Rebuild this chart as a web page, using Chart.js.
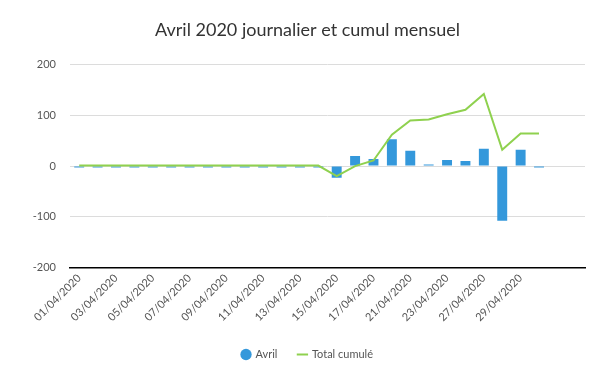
<!DOCTYPE html>
<html>
<head>
<meta charset="utf-8">
<script src="https://cdn.jsdelivr.net/npm/chart.js@4/dist/chart.umd.min.js"></script>
<style>
  body { margin: 0; background: #fff; }
  #wrap { width: 615px; height: 380px; }
</style>
</head>
<body>
<div id="wrap"><canvas id="chart" width="615" height="380"></canvas></div>
<script>
const days = [
  '01/04/2020', '02/04/2020', '03/04/2020', '04/04/2020', '05/04/2020', '06/04/2020', '07/04/2020',
  '08/04/2020', '09/04/2020', '10/04/2020', '11/04/2020', '12/04/2020', '13/04/2020', '14/04/2020',
  '15/04/2020', '16/04/2020', '17/04/2020', '20/04/2020', '21/04/2020', '22/04/2020', '23/04/2020',
  '24/04/2020', '27/04/2020', '28/04/2020', '29/04/2020', '30/04/2020', '', ''
];
const daily = [
  -3, -3, -3, -3, -3, -3, -3, -3, -3, -3, -3, -3, -3, -3,
  -23, 20, 14, 53, 30, 3, 12, 10, 34, -108, 32, -3, null, null
];
const cumul = [
  1, 1, 1, 1, 1, 1, 1, 1, 1, 1, 1, 1, 1, 1,
  -20, 0, 11, 62, 90, 92, 102, 111, 142, 32, 64, 64, null, null
];
const yTicks = [-200, -100, 0, 100, 200];

Chart.defaults.font.family = 'Lato, sans-serif';
Chart.defaults.color = '#555';

const ctx = document.getElementById('chart').getContext('2d');
new Chart(ctx, {
  type: 'bar',
  data: {
    labels: days,
    datasets: [
      {
        type: 'line',
        label: 'Total cumulé',
        data: cumul,
        borderColor: '#8fd14f',
        backgroundColor: '#8fd14f',
        borderWidth: 2,
        pointRadius: 0,
        pointStyle: 'line',
        tension: 0,
        order: 1
      },
      {
        type: 'bar',
        label: 'Avril',
        data: daily,
        backgroundColor: '#3498db',
        borderWidth: 0,
        pointStyle: 'circle',
        barPercentage: 0.6,
        categoryPercentage: 0.9,
        order: 2
      }
    ]
  },
  options: {
    responsive: false,
    animation: false,
    layout: { padding: { top: 11, right: 15, bottom: 10, left: 15 } },
    plugins: {
      title: {
        display: true,
        text: 'Avril 2020 journalier et cumul mensuel',
        color: '#333',
        font: { size: 18, weight: 'normal' },
        padding: { top: 8, bottom: 24 }
      },
      legend: {
        position: 'bottom',
        reverse: true,
        labels: {
          usePointStyle: true,
          boxWidth: 8,
          boxHeight: 8,
          padding: 21,
          color: '#555',
          font: { size: 11 }
        }
      },
      tooltip: { enabled: false }
    },
    scales: {
      x: {
        grid: { display: false, drawTicks: false },
        border: { display: true, color: '#000', width: 1.5 },
        ticks: {
          autoSkip: false,
          minRotation: 45,
          maxRotation: 45,
          padding: 4,
          font: { size: 11 },
          callback: function (value, index) {
            return index % 2 === 0 ? this.getLabelForValue(value) : '';
          }
        }
      },
      y: {
        min: yTicks[0],
        max: yTicks[yTicks.length - 1],
        afterFit: scale => { scale.width = 55; },
        afterBuildTicks: scale => { scale.ticks = yTicks.map(v => ({ value: v })); },
        grid: { color: '#dcdcdc', drawTicks: false },
        border: { display: false },
        ticks: { padding: 14, font: { size: 11 } }
      },
      yRight: {
        position: 'right',
        afterFit: scale => { scale.width = 15; },
        grid: { display: false, drawTicks: false },
        border: { display: false },
        ticks: { display: false }
      }
    }
  }
});
</script>
</body>
</html>
